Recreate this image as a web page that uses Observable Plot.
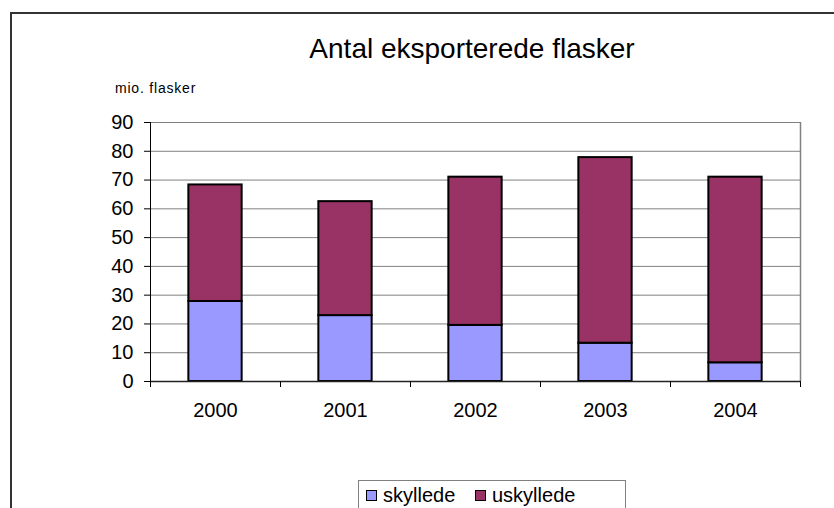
<!DOCTYPE html>
<html>
<head>
<meta charset="utf-8">
<script src="https://cdn.jsdelivr.net/npm/d3@7"></script>
<script src="https://cdn.jsdelivr.net/npm/@observablehq/plot@0.6"></script>
<style>
  html, body { margin: 0; padding: 0; background: #fff; }
  #wrap { position: relative; width: 834px; height: 508px; overflow: hidden; font-family: "Liberation Sans", Arial, sans-serif; }
  #frame { position: absolute; left: 10px; top: 12px; width: 900px; height: 600px; border-left: 2px solid #333; border-top: 2px solid #333; box-sizing: border-box; }
  #chart { position: absolute; left: 0; top: 0; }
  #title { position: absolute; left: 272px; width: 400px; top: 33px; text-align: center; font-size: 28px; line-height: 32px; color: #000; white-space: nowrap; }
  #ylabel { position: absolute; left: 115px; top: 80px; font-size: 14px; letter-spacing: 0.8px; line-height: 16px; color: #000; white-space: nowrap; }
  #legend { position: absolute; left: 358px; top: 480px; width: 268px; height: 60px; border: 1px solid #808080; box-sizing: border-box; background: #fff; }
  .item { position: absolute; top: 2px; font-size: 20px; line-height: 24px; color: #000; white-space: nowrap; }
  .sw { display: inline-block; width: 9px; height: 9px; border: 1px solid #000; margin-right: 6px; vertical-align: 1px; }
</style>
</head>
<body>
<div id="wrap">
  <div id="frame"></div>
  <div id="chart"></div>
  <div id="title"></div>
  <div id="ylabel"></div>
  <div id="legend"></div>
</div>
<script>
// ---- data ----
const titleText = "Antal eksporterede flasker";
const yLabelText = "mio. flasker";
const years = ["2000", "2001", "2002", "2003", "2004"];
const seriesNames = ["skyllede", "uskyllede"];
const seriesColors = ["#9999FF", "#993366"];
const skyllede = [27.8, 22.9, 19.5, 13.3, 6.5];
const uskyllede = [40.5, 39.6, 51.5, 64.5, 64.5];
const yTicks = [0, 10, 20, 30, 40, 50, 60, 70, 80, 90];

// ---- table ----
const rows = years.flatMap((year, i) => [
  {i, year, series: seriesNames[0], value: skyllede[i]},
  {i, year, series: seriesNames[1], value: uskyllede[i]}
]);

const barHalf = 0.205;

const chart = Plot.plot({
  width: 834,
  height: 508,
  marginLeft: 150,
  marginRight: 34,
  marginTop: 122,
  marginBottom: 127,
  style: {fontFamily: "'Liberation Sans', Arial, sans-serif", fontSize: "20px", color: "#000", background: "transparent", overflow: "visible"},
  x: {type: "linear", domain: [0, years.length]},
  y: {domain: [0, 90]},
  color: {domain: seriesNames, range: seriesColors},
  marks: [
    Plot.gridY(yTicks, {stroke: "#808080", strokeOpacity: 1, strokeWidth: 1}),
    Plot.ruleX([years.length], {y1: 0, y2: 90, stroke: "#808080", strokeWidth: 1.5}),
    Plot.rectY(rows, {
      x1: d => d.i + 0.5 - barHalf,
      x2: d => d.i + 0.5 + barHalf,
      y: "value",
      fill: "series",
      stroke: "#000",
      strokeWidth: 2
    }),
    Plot.ruleY([0], {stroke: "#222", strokeWidth: 1.5}),
    Plot.ruleX([0], {y1: 0, y2: 90, stroke: "#000", strokeWidth: 1}),
    Plot.axisY({ticks: yTicks, tickSize: 6, tickPadding: 11, label: null, fontSize: 20}),
    Plot.axisX({ticks: d3.range(years.length + 1), tickSize: 6, tickFormat: () => "", label: null}),
    Plot.axisX({ticks: years.map((_, i) => i + 0.5), tickSize: 0, tickPadding: 21, tickFormat: d => years[Math.floor(d)], label: null, fontSize: 20})
  ]
});
document.getElementById("chart").appendChild(chart);

document.getElementById("title").textContent = titleText;
document.getElementById("ylabel").textContent = yLabelText;

const legend = document.getElementById("legend");
const legendX = [7, 116];
seriesNames.forEach((name, k) => {
  const item = document.createElement("div");
  item.className = "item";
  item.style.left = legendX[k] + "px";
  const sw = document.createElement("span");
  sw.className = "sw";
  sw.style.background = seriesColors[k];
  item.appendChild(sw);
  item.appendChild(document.createTextNode(name));
  legend.appendChild(item);
});
</script>
</body>
</html>
